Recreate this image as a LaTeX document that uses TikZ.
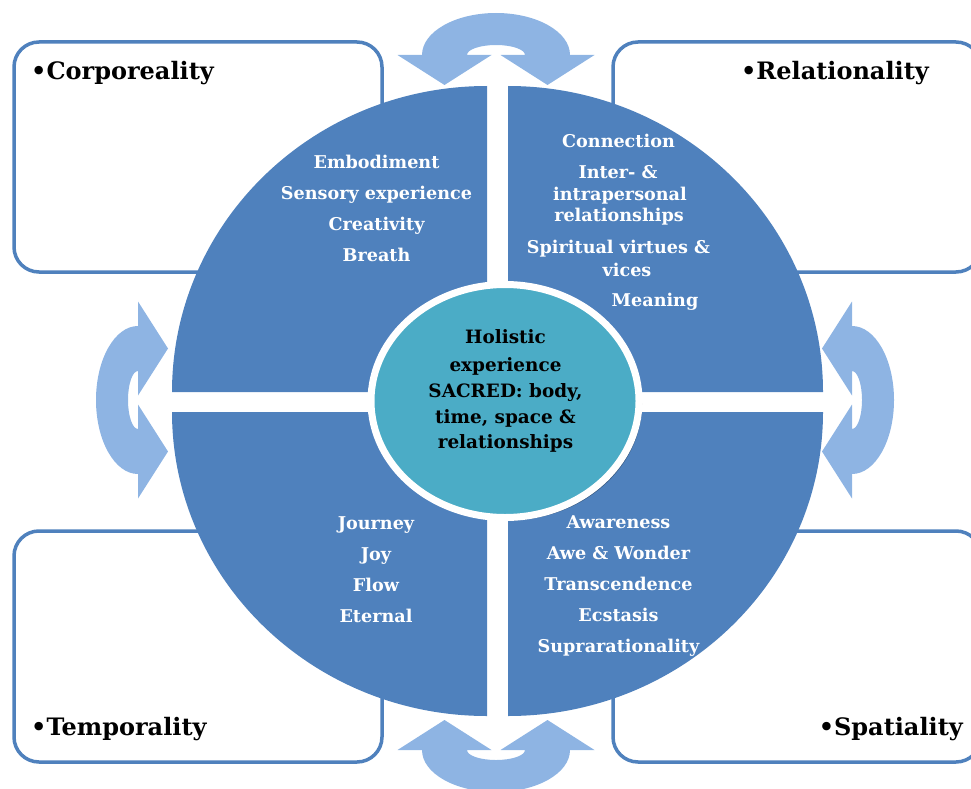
\documentclass[tikz,border=0pt]{standalone}
\usepackage{fontspec}
\setmainfont{DejaVu Serif}
\usetikzlibrary{shapes.geometric,shadows}
\definecolor{quadblue}{HTML}{4F81BD}
\definecolor{arrowblue}{HTML}{8EB4E3}
\definecolor{coreteal}{HTML}{4BACC6}
\definecolor{boxline}{HTML}{4F81BD}
\tikzset{
  quad/.style={fill=quadblue},
  qtext/.style={text=white, font=\bfseries\fontsize{17.6}{17.6}\selectfont, anchor=base, inner sep=0pt},
  ctext/.style={text=black, font=\bfseries\fontsize{18.4}{18.4}\selectfont, anchor=base, inner sep=0pt},
  framebox/.style={draw=boxline, line width=3.5pt, rounded corners=25pt, fill=white, minimum width=368pt, minimum height=230pt, inner sep=0pt},
  boxlabel/.style={text=black, font=\bfseries\fontsize{24}{24}\selectfont, inner sep=0pt},
  arrowfill/.style={fill=arrowblue},
  core/.style={ellipse, fill=coreteal, draw=white, line width=7pt, minimum width=268pt, minimum height=233pt, inner sep=0pt,
    drop shadow={shadow xshift=3pt, shadow yshift=-3pt, opacity=0.3, fill=black}},
  cyclearrow/.pic={
    \fill[arrowfill] (-74,0) arc[start angle=180, end angle=0, x radius=74, y radius=42]
      -- (98.5,0) -- (51.5,-30) -- (4.5,0) -- (29,0)
      arc[start angle=0, end angle=180, x radius=29, y radius=10]
      -- (-4.5,0) -- (-51.5,-30) -- (-98.5,0) -- cycle;
  }
}
\begin{document}
\begin{tikzpicture}[x=1pt,y=1pt]
\useasboundingbox (0,0) rectangle (971,-789);
% outer boxes
\node[framebox] (boxTL) at (198,-157) {};
\node[framebox] (boxTR) at (797,-157) {};
\node[framebox, minimum height=231pt] (boxBL) at (198,-646.5) {};
\node[framebox, minimum height=231pt] (boxBR) at (797,-646.5) {};
\node[boxlabel, anchor=base west] (labTL) at (31,-80) {•Corporeality};
\node[boxlabel, anchor=base east] (labTR) at (929,-80) {•Relationality};
\node[boxlabel, anchor=base west] (labBL) at (31,-735) {•Temporality};
\node[boxlabel, anchor=base east] (labBR) at (963,-735) {•Spatiality};
% cycle arrows
\pic at (496,-55) {cyclearrow};
\pic[rotate=180] at (496,-750) {cyclearrow};
\pic[rotate=90] at (138,-400) {cyclearrow};
\pic[rotate=-90] at (852,-400) {cyclearrow};
% quadrants
\fill[quad] (487,-392) -- (172,-392) arc[start angle=180, end angle=90, x radius=315, y radius=306] -- cycle;
\fill[quad] (508,-392) -- (508,-86) arc[start angle=90, end angle=0, x radius=315, y radius=306] -- cycle;
\fill[quad] (487,-412) -- (172,-412) arc[start angle=180, end angle=270, x radius=315, y radius=304] -- cycle;
\fill[quad] (508,-412) -- (823,-412) arc[start angle=0, end angle=-90, x radius=315, y radius=304] -- cycle;
% quadrant texts
\node[qtext] (tl1) at (376.5,-168) {Embodiment};
\node[qtext] (tl2) at (376.5,-199) {Sensory experience};
\node[qtext] (tl3) at (376.5,-230) {Creativity};
\node[qtext] (tl4) at (376.5,-261) {Breath};
\node[qtext] (tr1) at (618.5,-147.5) {Connection};
\node[qtext] (tr2) at (618,-178.5) {Inter- \&};
\node[qtext] (tr3) at (620,-200) {intrapersonal};
\node[qtext] (tr4) at (619,-221.5) {relationships};
\node[qtext] (tr5) at (618.5,-253) {Spiritual virtues \&};
\node[qtext] (tr6) at (627,-276) {vices};
\node[qtext] (tr7) at (655,-306) {Meaning};
\node[qtext] (bl1) at (376,-529) {Journey};
\node[qtext] (bl2) at (376,-560) {Joy};
\node[qtext] (bl3) at (376,-591) {Flow};
\node[qtext] (bl4) at (376,-622) {Eternal};
\node[qtext] (br1) at (618.5,-528) {Awareness};
\node[qtext] (br2) at (618.5,-559) {Awe \& Wonder};
\node[qtext] (br3) at (618.5,-590) {Transcendence};
\node[qtext] (br4) at (618.5,-621) {Ecstasis};
\node[qtext] (br5) at (618.5,-652) {Suprarationality};
% centre
\node[core] (hub) at (505,-401) {};
\node[ctext] (c1) at (505.5,-343) {Holistic};
\node[ctext] (c2) at (505.5,-371) {experience};
\node[ctext] (c3) at (505.5,-397) {SACRED: body,};
\node[ctext] (c4) at (505.5,-423) {time, space \&};
\node[ctext] (c5) at (505.5,-448) {relationships};
\end{tikzpicture}
\end{document}
